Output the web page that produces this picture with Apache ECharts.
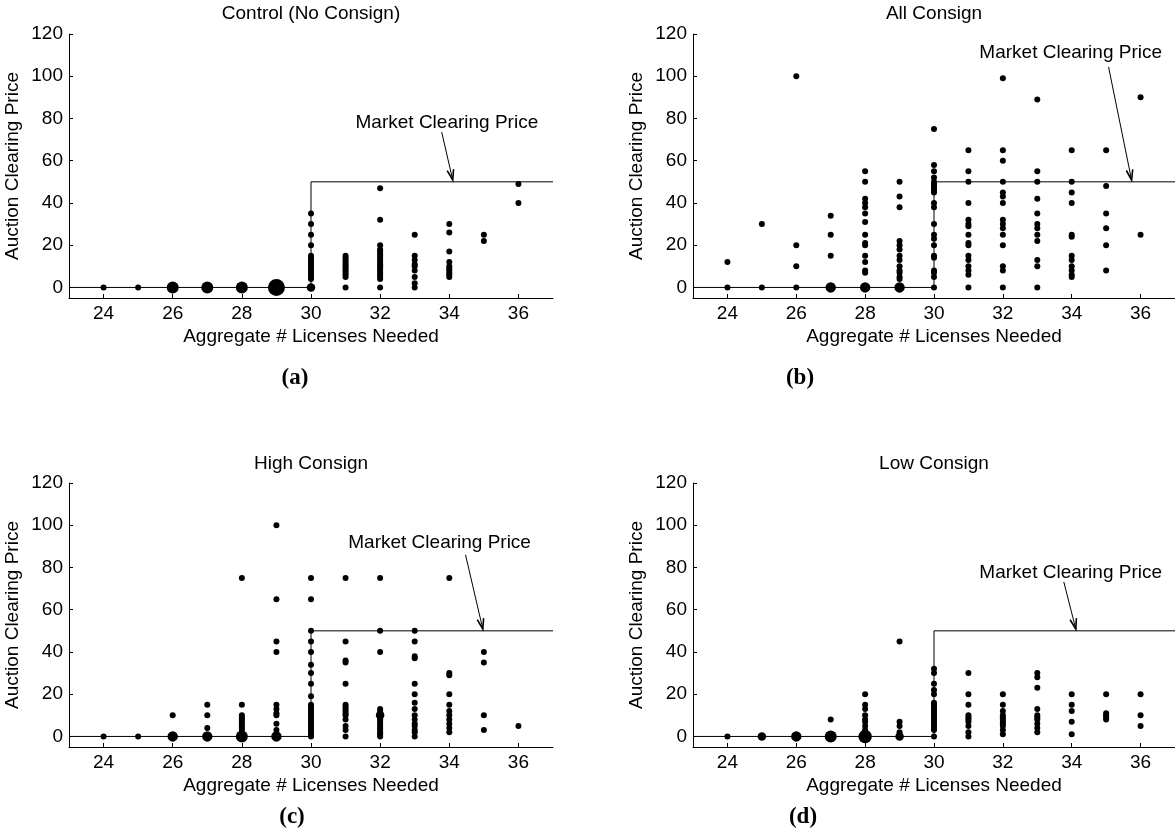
<!DOCTYPE html>
<html>
<head>
<meta charset="utf-8">
<script src="https://cdn.jsdelivr.net/npm/echarts@6/dist/echarts.min.js"></script>
<style>
  html, body { margin: 0; padding: 0; background: #fff; }
  #chart { width: 1175px; height: 834px; }
</style>
</head>
<body>
<div id="chart"></div>
<script>
// Axis ticks and text
const xTicks = [24, 26, 28, 30, 32, 34, 36];
const yTicks = [0, 20, 40, 60, 80, 100, 120];
const panelTitles = ['Control (No Consign)', 'All Consign', 'High Consign', 'Low Consign'];
const panelTags = ['(a)', '(b)', '(c)', '(d)'];
const xName = 'Aggregate # Licenses Needed';
const yName = 'Auction Clearing Price';
const clearingLabel = 'Market Clearing Price';

// Market clearing price step: 0 below 30 licenses, 50 from 30 on
const clearingX = [23, 30, 30, 37];
const clearingY = [0, 0, 50, 50];

// Clearing prices observed at each aggregate license count
const controlCols = [
  [24, [0]], [25, [0]], [26, [0]], [27, [0]], [28, [0]], [29, [0]],
  [30, [0, 4, 5, 6, 7, 8, 9, 10, 11, 12, 13, 14, 15, 20, 25, 30, 35]],
  [31, [0, 5, 6, 7, 8, 9, 10, 11, 12, 13, 14, 15]],
  [32, [0, 4, 5, 6, 7, 8, 9, 10, 11, 12, 13, 14, 15, 16, 17, 18, 20, 32, 47]],
  [33, [0, 2, 5, 8, 10, 11, 13, 15, 25]],
  [34, [5, 6, 7, 8, 9, 10, 12, 17, 26, 30]],
  [35, [22, 25]],
  [36, [40, 49]]
];
const allCols = [
  [24, [0, 12]], [25, [0, 30]], [26, [0, 10, 20, 100]], [27, [0, 15, 25, 34]],
  [28, [0, 7, 8, 12, 15, 20, 21, 25, 31, 35, 38, 40, 42, 50, 55]],
  [29, [0, 4, 5, 7, 8, 10, 13, 15, 18, 20, 22, 38, 43, 50]],
  [30, [0, 5, 7, 8, 14, 15, 20, 23, 25, 30, 38, 40, 45, 46, 47, 48, 49, 50, 52, 55, 58, 75]],
  [31, [0, 6, 8, 10, 13, 15, 20, 21, 25, 29, 30, 32, 40, 50, 55, 65]],
  [32, [0, 8, 10, 20, 25, 28, 30, 32, 40, 43, 45, 50, 60, 65, 99]],
  [33, [0, 10, 13, 22, 25, 28, 30, 35, 42, 50, 55, 89]],
  [34, [5, 6, 8, 10, 13, 15, 24, 25, 40, 45, 50, 65]],
  [35, [8, 20, 28, 35, 48, 65]],
  [36, [25, 90]]
];
const highCols = [
  [24, [0]], [25, [0]], [26, [0, 10]], [27, [0, 4, 10, 15]],
  [28, [0, 3, 4, 5, 6, 7, 8, 9, 10, 15, 75]],
  [29, [0, 3, 6, 10, 11, 13, 15, 40, 45, 65, 100]],
  [30, [0, 1, 2, 3, 4, 5, 6, 7, 8, 9, 10, 11, 12, 13, 14, 15, 19, 25, 30, 34, 40, 45, 50, 65, 75]],
  [31, [0, 3, 5, 8, 10, 11, 12, 13, 14, 15, 25, 35, 36, 45, 75]],
  [32, [0, 1, 2, 3, 4, 5, 6, 7, 8, 9, 10, 11, 12, 13, 40, 50, 75]],
  [33, [0, 2, 3, 5, 6, 8, 10, 13, 16, 20, 25, 37, 38, 45, 50]],
  [34, [2, 4, 6, 8, 10, 12, 15, 20, 29, 30, 75]],
  [35, [3, 10, 35, 40]],
  [36, [5]]
];
const lowCols = [
  [24, [0]], [25, [0]], [26, [0]], [27, [0, 8]],
  [28, [0, 3, 5, 7, 8, 10, 13, 15, 20]],
  [29, [0, 2, 5, 7, 45]],
  [30, [0, 3, 4, 5, 6, 7, 8, 9, 10, 11, 12, 13, 14, 15, 16, 20, 22, 25, 30, 32]],
  [31, [0, 2, 5, 7, 8, 9, 10, 15, 20, 30]],
  [32, [1, 3, 5, 6, 7, 8, 9, 10, 12, 15, 20]],
  [33, [2, 4, 6, 8, 9, 10, 13, 23, 28, 30]],
  [34, [1, 7, 12, 15, 20]],
  [35, [8, 9, 10, 11, 20]],
  [36, [5, 10, 20]]
];

// Repeated outcomes [licenses, price, count], drawn as larger marks
const controlRepeats = [[26, 0, 4], [27, 0, 4], [28, 0, 4], [29, 0, 8], [30, 0, 2]];
const allRepeats = [[27, 0, 3], [28, 0, 3], [29, 0, 3]];
const highRepeats = [[26, 0, 3], [27, 0, 3], [28, 0, 4], [29, 0, 3], [32, 10, 2]];
const lowRepeats = [[25, 0, 2], [26, 0, 3], [27, 0, 4], [28, 0, 5], [29, 0, 2]];

// Arrow annotation per panel: label centre, arrow tail, arrow tip (data units)
const arrowNotes = [
  { text: [33.93, 78], tail: [33.78, 73.6], tip: [34.1, 50.8] },
  { text: [33.97, 111], tail: [35.07, 104.4], tip: [35.74, 50.8] },
  { text: [33.72, 91.7], tail: [34.47, 86], tip: [34.97, 50.8] },
  { text: [33.97, 77.5], tail: [33.77, 73.2], tip: [34.12, 50.8] }
];

function buildPoints(cols, repeats) {
  const pts = [];
  cols.forEach(([x, ys]) => ys.forEach(y => {
    const rep = repeats.find(r => r[0] === x && r[1] === y);
    pts.push([x, y, rep ? rep[2] : 1]);
  }));
  return pts;
}
const panelData = [
  buildPoints(controlCols, controlRepeats),
  buildPoints(allCols, allRepeats),
  buildPoints(highCols, highRepeats),
  buildPoints(lowCols, lowRepeats)
];

const sans = '"Liberation Sans", Arial, Helvetica, sans-serif';
const fs = 19;
const gridBoxes = [
  { left: 69, top: 34, width: 484, height: 264 },
  { left: 693, top: 34, width: 482, height: 264 },
  { left: 69, top: 483, width: 484, height: 264 },
  { left: 693, top: 483, width: 482, height: 264 }
];
const titlePos = [[311, 14], [934, 14], [311, 464], [934, 464]];
const tagPos = [[295, 378], [800, 378], [292, 817], [803, 817]];

const grid = [], xAxis = [], yAxis = [], series = [], graphic = [];
gridBoxes.forEach((g, i) => {
  grid.push(Object.assign({ containLabel: false }, g));
  xAxis.push({
    gridIndex: i, type: 'value', min: 23, max: 37,
    axisLine: { onZero: false, lineStyle: { color: '#000', width: 1 } },
    axisTick: { show: true, inside: true, length: 4, customValues: xTicks, lineStyle: { color: '#000' } },
    axisLabel: { customValues: xTicks, color: '#000', fontSize: fs, fontFamily: sans, margin: 6 },
    splitLine: { show: false },
    name: xName, nameLocation: 'middle', nameGap: 29,
    nameTextStyle: { color: '#000', fontSize: fs, fontFamily: sans }
  });
  yAxis.push({
    gridIndex: i, type: 'value', min: -5, max: 120,
    axisLine: { show: true, onZero: false, lineStyle: { color: '#000', width: 1 } },
    axisTick: { show: true, inside: true, length: 4, customValues: yTicks, lineStyle: { color: '#000' } },
    axisLabel: { customValues: yTicks, color: '#000', fontSize: fs, fontFamily: sans, margin: 6 },
    splitLine: { show: false },
    name: yName, nameLocation: 'middle', nameGap: 47, nameRotate: 90,
    nameTextStyle: { color: '#000', fontSize: fs, fontFamily: sans }
  });
  series.push({
    type: 'line', xAxisIndex: i, yAxisIndex: i,
    data: clearingX.map((x, k) => [x, clearingY[k]]),
    symbol: 'none', lineStyle: { color: '#000', width: 1 }, z: 2, silent: true
  });
  series.push({
    type: 'scatter', xAxisIndex: i, yAxisIndex: i,
    data: panelData[i],
    symbolSize: v => 6 * Math.sqrt(v[2]),
    itemStyle: { color: '#000', opacity: 1 }, z: 3, clip: false
  });
  const note = arrowNotes[i];
  series.push({
    type: 'custom', xAxisIndex: i, yAxisIndex: i, z: 4, silent: true, clip: false,
    data: [note.tip],
    renderItem: (params, api) => {
      const t = api.coord(note.text), a = api.coord(note.tail), b = api.coord(note.tip);
      const ang = Math.atan2(b[1] - a[1], b[0] - a[0]);
      const L = 11, w = 0.3;
      const p1 = [b[0] - L * Math.cos(ang - w), b[1] - L * Math.sin(ang - w)];
      const p2 = [b[0] - L * Math.cos(ang + w), b[1] - L * Math.sin(ang + w)];
      return {
        type: 'group',
        children: [
          { type: 'line', shape: { x1: a[0], y1: a[1], x2: b[0], y2: b[1] }, style: { stroke: '#000', lineWidth: 1 } },
          { type: 'polyline', shape: { points: [p1, b, p2] }, style: { stroke: '#000', lineWidth: 1.6, fill: null } },
          { type: 'text', x: t[0], y: t[1], style: { text: clearingLabel, font: fs + 'px ' + sans, fill: '#000', align: 'center', verticalAlign: 'middle', textAlign: 'center', textVerticalAlign: 'middle' } }
        ]
      };
    }
  });
  graphic.push({
    type: 'text', x: titlePos[i][0], y: titlePos[i][1],
    style: { text: panelTitles[i], font: fs + 'px ' + sans, fill: '#000', textAlign: 'center', textVerticalAlign: 'middle' }
  });
  graphic.push({
    type: 'text', x: tagPos[i][0], y: tagPos[i][1],
    style: { text: panelTags[i], font: 'bold 23px "Liberation Serif", "Times New Roman", serif', fill: '#000', textAlign: 'center', textVerticalAlign: 'middle' }
  });
});

const chart = echarts.init(document.getElementById('chart'), null, { renderer: 'canvas' });
chart.setOption({
  animation: false,
  backgroundColor: '#fff',
  grid, xAxis, yAxis, series, graphic
});
</script>
</body>
</html>
